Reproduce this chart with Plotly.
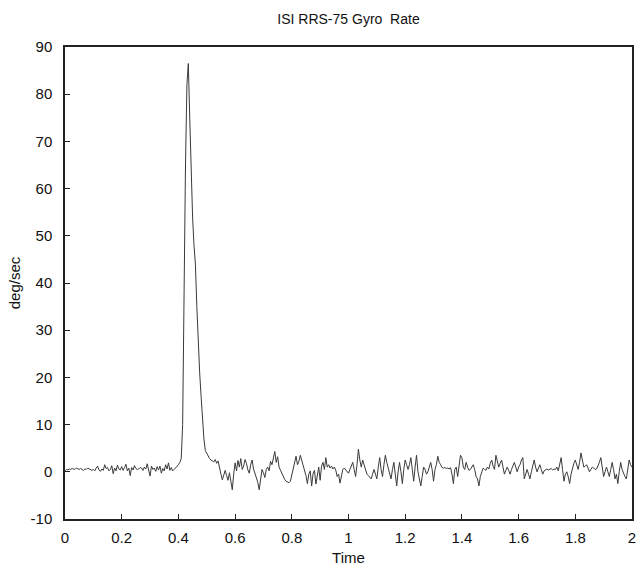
import plotly.graph_objects as go

# Sample interval of the recorded signal (s)
dt = 0.005

# Gyro rate (deg/sec), 0.1 s per row
seg_000 = [0.2, 0.5, 0.4, 0.6, 0.5, 0.7, 0.6, 0.5, 0.8, 0.6, 0.5, 0.7, 0.4, 0.3, 0.6, 0.5, 0.8, 0.6, 0.4, 0.3]
seg_010 = [0.5, 0.2, 0.8, 1.2, 0.4, 0.1, 0.6, 0.3, 1.5, 0.7, 0.9, 0.2, 0.5, 1.3, -0.4, 0.8, 0.2, 1.4, 0.6, 0.4]
seg_020 = [1.1, 0.3, 0.9, 1.6, 0.2, 0.8, -0.8, 0.9, 0.4, 1.3, 0.7, 0.5, 0.6, 0.9, 0.8, 0.3, 1.0, 0.6, 1.7, 0.4]
seg_030 = [-0.9, 1.2, 0.5, 0.8, 0.1, 1.1, 0.4, 1.2, -0.3, 0.7, 0.2, 1.5, 0.6, 1.9, 0.3, 0.9, 0.2, 0.5, 0.8, 1.2]
seg_040 = [1.5, 2.0, 2.8, 10.0, 40.0, 65.0, 82.0, 86.5, 75.0, 63.0, 54.0, 48.0, 44.0, 35.0, 27.0, 21.0, 16.0, 11.0, 7.0, 4.5]
seg_050 = [3.8, 3.2, 2.8, 2.5, 2.3, 2.1, 2.6, 1.8, 2.3, 1.2, -0.5, -1.7, -0.6, 0.3, -0.8, -1.8, -0.2, -2.5, -3.8, -0.5]
seg_060 = [1.9, 0.2, 2.4, 1.0, 2.8, 0.5, 1.2, 2.6, 1.8, 0.4, -0.3, 1.5, 2.5, 0.6, -0.3, -1.0, -2.2, -3.8, -1.2, 0.5]
seg_070 = [-0.2, -1.2, 0.5, 1.0, 0.2, 2.2, 1.5, 3.0, 4.3, 2.0, 3.2, 1.0, 0.3, -0.5, -1.0, -1.6, -2.0, -2.2, -2.3, -2.0]
seg_080 = [-0.5, 1.0, 2.2, 3.3, 1.5, 2.2, 3.5, 2.5, 1.5, 0.5, -0.8, -2.5, -0.5, 0.2, -3.0, -0.4, 0.3, -2.6, -0.8, 1.0]
seg_090 = [-1.8, 1.2, 2.0, 0.5, 3.0, 1.0, 1.5, 0.8, 1.2, 0.6, 1.0, 0.4, -1.0, -0.5, -2.4, -0.8, 0.5, 0.8, 0.4, 0.2]
seg_100 = [-0.3, 0.5, 1.2, 2.0, 0.5, -1.0, 1.5, 4.8, 2.5, 1.0, 2.5, 1.5, 0.5, -0.5, -0.8, -1.2, -1.5, -0.5, 0.5, -0.5]
seg_110 = [-1.5, 1.0, 3.0, 0.5, -1.0, 1.5, 3.5, 2.0, 1.0, 0.0, -1.5, 0.5, 2.0, -0.5, -3.0, 0.0, 2.0, 0.0, -2.5, 0.5]
seg_120 = [2.5, 1.5, 0.5, 1.5, 3.0, 0.5, -2.0, 1.0, 3.5, 0.0, -2.0, -3.0, -1.0, 1.0, 0.5, -0.5, 0.0, 0.8, 2.0, 0.5]
seg_130 = [-2.0, 0.5, 1.5, 3.3, 2.0, 1.5, 0.9, 0.8, 0.9, 0.7, 0.8, 0.6, 0.9, -0.5, -2.5, 0.5, 1.0, -1.0, 1.0, 3.5]
seg_140 = [3.0, 1.0, 0.5, 2.0, 1.0, 0.3, 0.5, 1.0, 1.5, 0.5, -1.0, -1.5, -3.0, -1.0, 0.0, 0.8, 0.5, 0.3, 1.0, 0.6]
seg_150 = [1.8, 2.5, 1.2, 0.5, 3.5, 2.0, 1.0, 1.8, 2.5, 1.0, -0.5, 0.3, 1.0, 0.3, -0.5, 0.5, 1.2, 2.0, 1.0, 0.0]
seg_160 = [1.0, 1.5, 2.5, 3.0, -1.5, -0.5, 0.5, -0.5, -1.5, 0.0, 1.5, 2.5, 1.0, 0.0, 0.8, 1.5, 0.5, -0.5, 0.2, 0.5]
seg_170 = [0.6, 0.4, 0.5, 0.7, 0.4, 0.6, 0.5, 1.0, 0.2, 1.5, 3.0, 0.5, -2.0, -0.5, 0.0, -1.0, -2.5, -0.5, 1.0, 1.8]
seg_180 = [2.5, 1.5, 0.5, 2.0, 4.0, 2.5, 1.0, 1.2, 1.5, 0.8, 0.0, 0.5, 1.0, 0.8, 0.5, 0.6, 1.2, 2.0, 3.0, 0.5]
seg_190 = [-1.0, 0.0, 1.0, 0.0, -1.0, 0.5, 2.0, 0.5, -1.5, -0.5, -2.5, 0.0, 2.0, 0.5, -0.5, -1.0, -1.5, 0.5, 2.5, 1.5]
seg_end = [1.0]

rate = (seg_000 + seg_010 + seg_020 + seg_030 + seg_040 + seg_050 + seg_060
        + seg_070 + seg_080 + seg_090 + seg_100 + seg_110 + seg_120 + seg_130
        + seg_140 + seg_150 + seg_160 + seg_170 + seg_180 + seg_190 + seg_end)
time = [round(i * dt, 4) for i in range(len(rate))]

x_ticks = [0, 0.2, 0.4, 0.6, 0.8, 1, 1.2, 1.4, 1.6, 1.8, 2]
x_tick_labels = ["0", "0.2", "0.4", "0.6", "0.8", "1", "1.2", "1.4", "1.6", "1.8", "2"]
y_ticks = [-10, 0, 10, 20, 30, 40, 50, 60, 70, 80, 90]
y_tick_labels = ["-10", "0", "10", "20", "30", "40", "50", "60", "70", "80", "90"]

font_family = "Liberation Sans, Arial, Helvetica, sans-serif"

fig = go.Figure()
fig.add_trace(go.Scatter(
    x=time, y=rate, mode="lines",
    line=dict(color="#3a3a3a", width=1),
    showlegend=False, hoverinfo="skip",
))

axis_common = dict(
    showgrid=False, zeroline=False, showline=True, mirror=True,
    linecolor="#222222", linewidth=1.5,
    ticks="inside", ticklen=5, tickwidth=1, tickcolor="#222222",
    tickfont=dict(family=font_family, size=15, color="#111111"),
    automargin=False, ticklabeloverflow="allow",
)

fig.update_layout(
    width=638, height=571,
    paper_bgcolor="white", plot_bgcolor="white",
    margin=dict(l=65, r=6, t=47, b=52),
    title=dict(text="ISI RRS-75 Gyro  Rate", x=(65 + 632) / 2 / 638, xanchor="center",
               y=1 - 19 / 571, yanchor="middle",
               font=dict(family=font_family, size=14, color="#111111")),
    xaxis=dict(range=[0, 2], tickvals=x_ticks, ticktext=x_tick_labels,
               title=dict(text="Time", standoff=8,
                          font=dict(family=font_family, size=15, color="#111111")),
               ticklabelstandoff=4, **axis_common),
    yaxis=dict(range=[-10, 90], tickvals=y_ticks, ticktext=y_tick_labels,
               title=dict(text="deg/sec", standoff=6,
                          font=dict(family=font_family, size=15, color="#111111")),
               ticklabelstandoff=8, **axis_common),
)

fig.write_html(
    "out.html",
    config={"displayModeBar": False},
    post_script="document.body.style.margin='0';document.body.style.overflow='hidden';",
)
